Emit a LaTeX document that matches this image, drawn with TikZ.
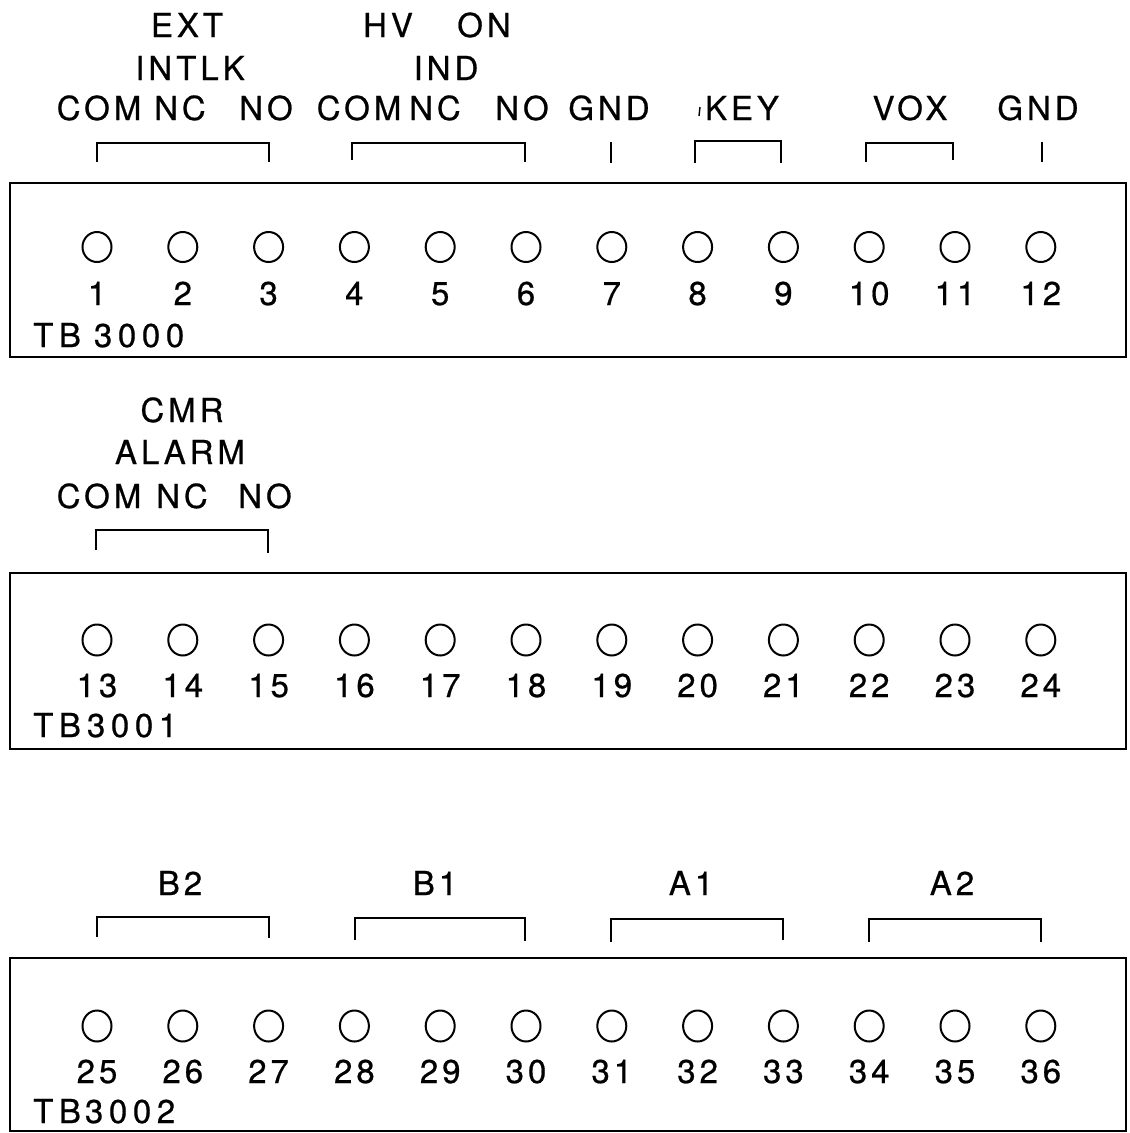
\documentclass[tikz,border=0pt]{standalone}
\usepackage{fontspec}
\usetikzlibrary{shapes.geometric}
\newfontfamily\lfont{TeX Gyre Heros}[LetterSpace=12,FakeBold=0.6]
\newfontfamily\tbfont{TeX Gyre Heros}[LetterSpace=17,FakeBold=0.6]
\begin{document}
\begin{tikzpicture}[x=1pt,y=-1pt,
  every node/.style={font=\lfont\fontsize{33}{33}\selectfont},
  term/.style={draw, ellipse, line width=2pt, minimum width=29pt, minimum height=30pt, inner sep=0pt},
  lab/.style={anchor=base, inner sep=0pt},
  tblab/.style={anchor=base west, inner sep=0pt, font=\tbfont\fontsize{33}{33}\selectfont},
  tbox/.style={line width=2.5pt},
  brk/.style={line width=2.2pt}]
\useasboundingbox (0,0) rectangle (1130,1133);

% ---------- TB3000 ----------
\draw[tbox] (10,183) rectangle (1126,357);
\foreach \i in {1,...,12}{
  \node[term] (t\i) at ({97+(\i-1)*85.8},247) {};
  \node[lab] (n\i) at ({97+(\i-1)*85.8},305) {\i};
}
\node[tblab] (tb0) at (33,347) {TB\hspace{13pt}3000};

\node[lab] (ext) at (187,37) {EXT};
\node[lab] (intlk) at (190,80) {INTLK};
\node[lab] (com1) at (99,120) {COM};
\node[lab] (nc1) at (180,120) {NC};
\node[lab] (no1) at (266,120) {NO};
\node[lab] (hv) at (388,37) {HV};
\node[lab] (on) at (484,37) {ON};
\node[lab] (ind) at (446,80) {IND};
\node[lab] (com2) at (359,120) {COM};
\node[lab] (nc2) at (435,120) {NC};
\node[lab] (no2) at (522,120) {NO};
\node[lab] (gnd1) at (609,120) {GND};
\node[lab] (key) at (742,120) {KEY};
\draw[line width=1.4pt] (700,107) -- (699,116);
\node[lab] (vox) at (910,120) {VOX};
\node[lab] (gnd2) at (1038,120) {GND};

\draw[brk] (97,162) -- (97,143) -- (269,143) -- (269,162);
\draw[brk] (352,160) -- (352,143) -- (525,143) -- (525,162);
\draw[brk] (611,142) -- (611,163);
\draw[brk] (695,163) -- (695,141) -- (781,141) -- (781,163);
\draw[brk] (866,162) -- (866,143) -- (953,143) -- (953,160);
\draw[brk] (1042,142) -- (1042,162);

% ---------- TB3001 ----------
\draw[tbox] (10,573) rectangle (1126,749);
\foreach \i [evaluate=\i as \n using int(\i+12)] in {1,...,12}{
  \node[term, minimum height=31pt] (t\n) at ({97+(\i-1)*85.8},640) {};
  \node[lab] (n\n) at ({97+(\i-1)*85.8},697) {\n};
}
\node[tblab] (tb1) at (33,737) {TB\hspace{6pt}3001};

\node[lab] (cmr) at (182,422) {CMR};
\node[lab] (alarm) at (180,464) {ALARM};
\node[lab] (com3) at (99,508) {COM};
\node[lab] (nc3) at (182,508) {NC};
\node[lab] (no3) at (265,508) {NO};
\draw[brk] (96,550) -- (96,530) -- (268,530) -- (268,553);

% ---------- TB3002 ----------
\draw[tbox] (10,958) rectangle (1126,1131);
\foreach \i [evaluate=\i as \n using int(\i+24)] in {1,...,12}{
  \node[term, minimum height=31pt] (t\n) at ({97+(\i-1)*85.8},1026) {};
  \node[lab] (n\n) at ({97+(\i-1)*85.8},1083) {\n};
}
\node[tblab] (tb2) at (33,1123) {TB\hspace{4pt}3002};

\node[lab] (b2) at (180,895) {B2};
\node[lab] (b1) at (435,895) {B1};
\node[lab] (a1) at (691,895) {A1};
\node[lab] (a2) at (952,895) {A2};
\draw[brk] (97,937) -- (97,917) -- (269,917) -- (269,938);
\draw[brk] (355,940) -- (355,918) -- (525,918) -- (525,941);
\draw[brk] (611,942) -- (611,919) -- (783,919) -- (783,940);
\draw[brk] (869,942) -- (869,919) -- (1041,919) -- (1041,942);
\end{tikzpicture}
\end{document}
